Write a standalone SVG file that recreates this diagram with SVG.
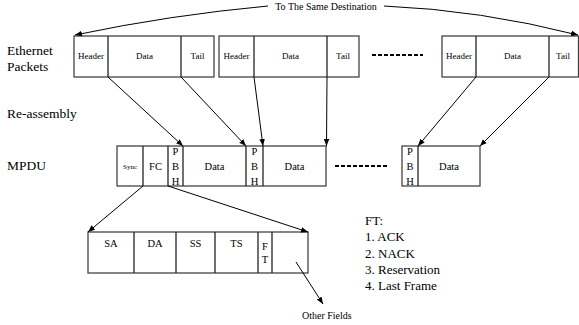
<svg xmlns="http://www.w3.org/2000/svg" width="579" height="325" viewBox="0 0 579 325" font-family="'Liberation Serif', 'DejaVu Serif', 'Times New Roman', serif">
<defs>
<marker id="ah" viewBox="0 0 10 10" refX="10" refY="5" markerWidth="7" markerHeight="7" markerUnits="userSpaceOnUse" orient="auto">
<path d="M0,1 L10,5 L0,9 z" fill="#000"/>
</marker>
<style>
.box{fill:#fff;stroke:#444;stroke-width:1.3}
.div{stroke:#222;stroke-width:1.3}
text{font-family:'Liberation Serif','DejaVu Serif','Times New Roman',serif;fill:#000}
.lbl{font-size:13.5px}
.sm{font-size:9px;text-anchor:middle}
.md{font-size:10.5px;text-anchor:middle}
.c{stroke:#000;stroke-width:1;fill:none;marker-end:url(#ah)}
.dash{stroke:#000;stroke-width:2;stroke-dasharray:4,2}
</style>
</defs>
<rect width="579" height="325" fill="#fff"/>

<g id="labels" class="lbl">
<text x="7" y="55">Ethernet</text>
<text x="7" y="71">Packets</text>
<text x="7" y="118">Re-assembly</text>
<text x="7" y="170">MPDU</text>
</g>

<g id="pkt1">
<rect class="box" x="74" y="36" width="140" height="41"/>
<line class="div" x1="108" y1="36" x2="108" y2="77"/>
<line class="div" x1="181" y1="36" x2="181" y2="77"/>
<text class="sm" x="91" y="59">Header</text>
<text class="sm" x="144.5" y="59">Data</text>
<text class="sm" x="197.5" y="59">Tail</text>
</g>
<g id="pkt2">
<rect class="box" x="219" y="36" width="140" height="41"/>
<line class="div" x1="254" y1="36" x2="254" y2="77"/>
<line class="div" x1="327" y1="36" x2="327" y2="77"/>
<text class="sm" x="236.5" y="59">Header</text>
<text class="sm" x="290.5" y="59">Data</text>
<text class="sm" x="343" y="59">Tail</text>
</g>
<g id="pktdots"><line class="dash" x1="372" y1="55" x2="423" y2="55"/></g>
<g id="pkt3">
<rect class="box" x="442" y="36" width="136.5" height="41"/>
<line class="div" x1="476" y1="36" x2="476" y2="77"/>
<line class="div" x1="549" y1="36" x2="549" y2="77"/>
<text class="sm" x="459" y="59">Header</text>
<text class="sm" x="512.5" y="59">Data</text>
<text class="sm" x="563" y="59">Tail</text>
</g>

<g id="dest">
<text x="326" y="10" font-size="10" text-anchor="middle">To The Same Destination</text>
</g>

<g id="mpdu">
<rect class="box" x="117" y="146" width="209" height="40"/>
<line class="div" x1="143" y1="146" x2="143" y2="186"/>
<line class="div" x1="168" y1="146" x2="168" y2="186"/>
<line class="div" x1="183" y1="146" x2="183" y2="186"/>
<line class="div" x1="246" y1="146" x2="246" y2="186"/>
<line class="div" x1="263" y1="146" x2="263" y2="186"/>
<text x="130" y="169" font-size="7" text-anchor="middle">Sync</text>
<text class="md" x="155.5" y="170">FC</text>
<text class="md" x="175.5" y="155">P</text>
<text class="md" x="175.5" y="170">B</text>
<text class="md" x="175.5" y="185">H</text>
<text class="md" x="214.5" y="170">Data</text>
<text class="md" x="254.5" y="155">P</text>
<text class="md" x="254.5" y="170">B</text>
<text class="md" x="254.5" y="185">H</text>
<text class="md" x="294.5" y="170">Data</text>
</g>
<g id="mpdudots"><line class="dash" x1="335" y1="166" x2="388" y2="166"/></g>
<g id="mpdu2">
<rect class="box" x="402" y="146" width="78" height="40"/>
<line class="div" x1="418" y1="146" x2="418" y2="186"/>
<text class="md" x="410" y="155">P</text>
<text class="md" x="410" y="170">B</text>
<text class="md" x="410" y="185">H</text>
<text class="md" x="449" y="170">Data</text>
</g>

<g id="fc">
<rect class="box" x="88" y="232" width="220" height="41"/>
<line class="div" x1="134" y1="232" x2="134" y2="273"/>
<line class="div" x1="176" y1="232" x2="176" y2="273"/>
<line class="div" x1="215" y1="232" x2="215" y2="273"/>
<line class="div" x1="258" y1="232" x2="258" y2="273"/>
<line class="div" x1="272" y1="232" x2="272" y2="273"/>
<text class="md" x="111" y="247">SA</text>
<text class="md" x="155" y="247">DA</text>
<text class="md" x="195.5" y="247">SS</text>
<text class="md" x="236.5" y="247">TS</text>
<text class="md" x="265" y="250">F</text>
<text class="md" x="265" y="263">T</text>
</g>

<g id="other">
<text x="302" y="319" font-size="10">Other Fields</text>
</g>

<g id="ftlist" font-size="13">
<text x="365" y="225">FT:</text>
<text x="365" y="241">1. ACK</text>
<text x="365" y="258">2. NACK</text>
<text x="365" y="274">3. Reservation</text>
<text x="365" y="290">4. Last Frame</text>
</g>

<g id="connectors">
<path class="c" d="M268,6 Q170,15 75,35"/>
<path class="c" d="M384,6 Q480,10 578,35"/>
<line class="c" x1="108" y1="77" x2="183" y2="146"/>
<line class="c" x1="181" y1="77" x2="246" y2="146"/>
<line class="c" x1="254" y1="77" x2="263" y2="146"/>
<line class="c" x1="327" y1="77" x2="326.5" y2="146"/>
<line class="c" x1="476" y1="77" x2="418" y2="146"/>
<line class="c" x1="549" y1="77" x2="480" y2="146"/>
<line class="c" x1="143" y1="186" x2="88" y2="232"/>
<line class="c" x1="168" y1="186" x2="308" y2="232"/>
<line class="c" x1="296" y1="262" x2="323" y2="304"/>
</g>
</svg>
